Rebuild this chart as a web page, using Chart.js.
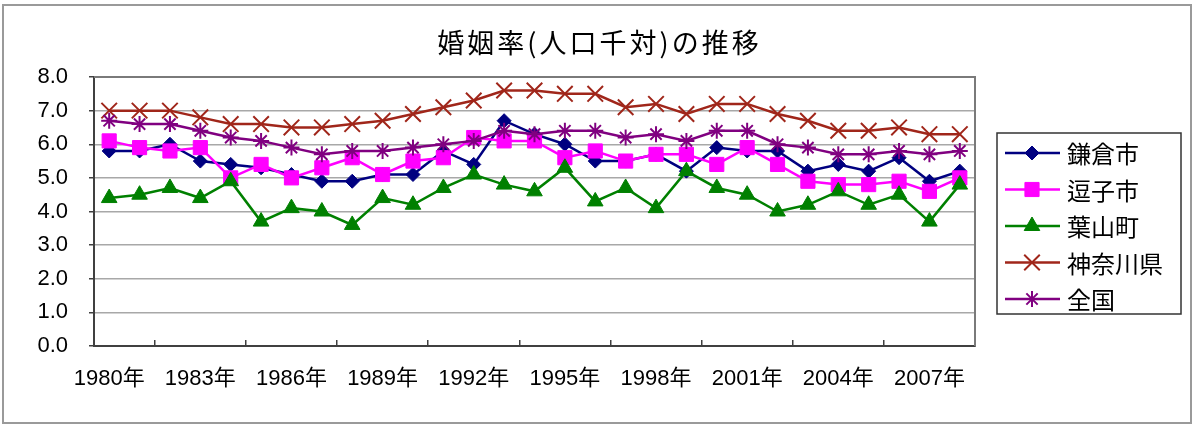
<!DOCTYPE html>
<html>
<head>
<meta charset="utf-8">
<script src="https://cdn.jsdelivr.net/npm/chart.js@4/dist/chart.umd.min.js"></script>
<style>
  html, body { margin: 0; padding: 0; background: #fff; }
  #wrap { width: 1197px; height: 428px; }
</style>
</head>
<body>
<div id="wrap"><canvas id="chart01" width="1197" height="428"></canvas></div>
<script>
// 年（横軸）
var years = ['1980年','1981年','1982年','1983年','1984年','1985年','1986年','1987年','1988年','1989年',
  '1990年','1991年','1992年','1993年','1994年','1995年','1996年','1997年','1998年','1999年',
  '2000年','2001年','2002年','2003年','2004年','2005年','2006年','2007年','2008年'];

// 婚姻率（人口千対）
var kamakura = [5.8, 5.8, 6.0, 5.5, 5.4, 5.3, 5.1, 4.9, 4.9, 5.1, 5.1, 5.8, 5.4, 6.7, 6.3,
  6.0, 5.5, 5.5, 5.7, 5.2, 5.9, 5.8, 5.8, 5.2, 5.4, 5.2, 5.6, 4.9, 5.2];
var zushi = [6.1, 5.9, 5.8, 5.9, 5.0, 5.4, 5.0, 5.3, 5.6, 5.1, 5.5, 5.6, 6.2, 6.1, 6.1,
  5.6, 5.8, 5.5, 5.7, 5.7, 5.4, 5.9, 5.4, 4.9, 4.8, 4.8, 4.9, 4.6, 5.0];
var hayama = [4.4, 4.5, 4.7, 4.4, 4.9, 3.7, 4.1, 4.0, 3.6, 4.4, 4.2, 4.7, 5.1, 4.8, 4.6,
  5.3, 4.3, 4.7, 4.1, 5.2, 4.7, 4.5, 4.0, 4.2, 4.6, 4.2, 4.5, 3.7, 4.8];
var kanagawa = [7.0, 7.0, 7.0, 6.8, 6.6, 6.6, 6.5, 6.5, 6.6, 6.7, 6.9, 7.1, 7.3, 7.6, 7.6,
  7.5, 7.5, 7.1, 7.2, 6.9, 7.2, 7.2, 6.9, 6.7, 6.4, 6.4, 6.5, 6.3, 6.3];
var zenkoku = [6.7, 6.6, 6.6, 6.4, 6.2, 6.1, 5.9, 5.7, 5.8, 5.8, 5.9, 6.0, 6.1, 6.4, 6.3,
  6.4, 6.4, 6.2, 6.3, 6.1, 6.4, 6.4, 6.0, 5.9, 5.7, 5.7, 5.8, 5.7, 5.8];

var yTicks = [0, 1, 2, 3, 4, 5, 6, 7, 8];

var TITLE = '婚姻率(人口千対)の推移';
var FONT = "'Liberation Sans', 'Noto Sans CJK JP', sans-serif";
var JFONT = "'Noto Sans CJK JP', sans-serif";

function series(label, data, color, style, radius, order) {
  return {
    label: label,
    data: data,
    borderColor: color,
    backgroundColor: color,
    borderWidth: 2.5,
    pointStyle: style,
    pointRadius: radius,
    pointHoverRadius: radius,
    pointBorderWidth: (style === 'crossRot' || style === 'star') ? 2 : 1,
    pointBackgroundColor: color,
    pointBorderColor: color,
    tension: 0,
    fill: false,
    order: order
  };
}

// 外枠・タイトル・プロットエリア枠・凡例
var framePlugin = {
  id: 'frame',
  beforeDraw: function(chart) {
    var ctx = chart.ctx;
    ctx.save();
    ctx.fillStyle = '#fff';
    ctx.fillRect(0, 0, chart.width, chart.height);
    ctx.strokeStyle = '#9a9a9a';
    ctx.lineWidth = 2;
    ctx.strokeRect(3, 5, chart.width - 9, chart.height - 10);

    // タイトル（全体の中央）
    ctx.fillStyle = '#000';
    ctx.font = '27px ' + JFONT;
    if ('letterSpacing' in ctx) ctx.letterSpacing = '3px';
    ctx.textAlign = 'center';
    ctx.textBaseline = 'middle';
    ctx.fillText(TITLE, chart.width / 2 + 1, 43);
    ctx.restore();
  },
  afterDraw: function(chart) {
    var ctx = chart.ctx, a = chart.chartArea;
    ctx.save();
    ctx.strokeStyle = '#7a7a7a';
    ctx.lineWidth = 2;
    ctx.beginPath();
    ctx.moveTo(a.left, a.top);
    ctx.lineTo(a.right, a.top);
    ctx.lineTo(a.right, a.bottom);
    ctx.stroke();

    // 凡例
    var ds = chart.data.datasets;
    var bx = a.right + 22, by = a.top + 56, bw = 184, bh = 181;
    ctx.strokeStyle = '#333';
    ctx.lineWidth = 1.5;
    ctx.strokeRect(bx, by, bw, bh);
    ctx.font = '24px ' + JFONT;
    ctx.textBaseline = 'middle';
    ctx.textAlign = 'left';
    for (var i = 0; i < ds.length; i++) {
      var y = by + 20 + i * 36.5;
      ctx.strokeStyle = ds[i].borderColor;
      ctx.fillStyle = ds[i].borderColor;
      ctx.lineWidth = 2.5;
      ctx.beginPath();
      ctx.moveTo(bx + 8, y);
      ctx.lineTo(bx + 63, y);
      ctx.stroke();
      ctx.lineWidth = ds[i].pointBorderWidth;
      Chart.helpers.drawPoint(ctx, {
        pointStyle: ds[i].pointStyle,
        radius: ds[i].pointRadius,
        rotation: 0,
        borderWidth: ds[i].pointBorderWidth
      }, bx + 35, y);
      ctx.fillStyle = '#000';
      ctx.fillText(ds[i].label, bx + 70, y + 1);
    }
    ctx.restore();
  }
};

var ctx = document.getElementById('chart01');
var myLineChart = new Chart(ctx, {
  type: 'line',
  data: {
    labels: years,
    datasets: [
      series('鎌倉市', kamakura, '#000080', 'rectRot', 7, 4),
      series('逗子市', zushi, '#ff00ff', 'rect', 10, 3),
      series('葉山町', hayama, '#008000', 'triangle', 9, 2),
      series('神奈川県', kanagawa, '#a0261a', 'crossRot', 11, 1),
      series('全国', zenkoku, '#800080', 'star', 8, 0)
    ]
  },
  options: {
    responsive: false,
    devicePixelRatio: 1,
    animation: false,
    events: [],
    layout: {
      padding: { left: 0, right: 222, top: 77, bottom: 0 }
    },
    plugins: {
      legend: { display: false },
      tooltip: { enabled: false },
      title: { display: false }
    },
    scales: {
      x: {
        type: 'category',
        offset: true,
        afterFit: function(s) { s.height = 82; },
        grid: {
          offset: true,
          drawOnChartArea: false,
          drawTicks: true,
          tickLength: -6,
          color: '#404040',
          lineWidth: 1.5
        },
        border: { display: true, color: '#404040', width: 2 },
        ticks: {
          autoSkip: false,
          maxRotation: 0,
          minRotation: 0,
          padding: 26,
          color: '#000',
          font: { family: FONT, size: 22 },
          callback: function(v, i) { return i % 3 === 0 ? this.getLabelForValue(v) : null; }
        }
      },
      y: {
        min: 0,
        max: 8,
        afterFit: function(s) { s.width = 94; },
        afterBuildTicks: function(s) { s.ticks = yTicks.map(function(v) { return { value: v }; }); },
        grid: {
          color: '#a8a8a8',
          lineWidth: 1.5,
          drawTicks: true,
          tickLength: 5,
          tickColor: '#404040'
        },
        border: { display: true, color: '#404040', width: 2 },
        ticks: {
          padding: 21,
          color: '#000',
          font: { family: FONT, size: 22 },
          callback: function(v) { return v.toFixed(1); }
        }
      }
    }
  },
  plugins: [framePlugin]
});
</script>
</body>
</html>
